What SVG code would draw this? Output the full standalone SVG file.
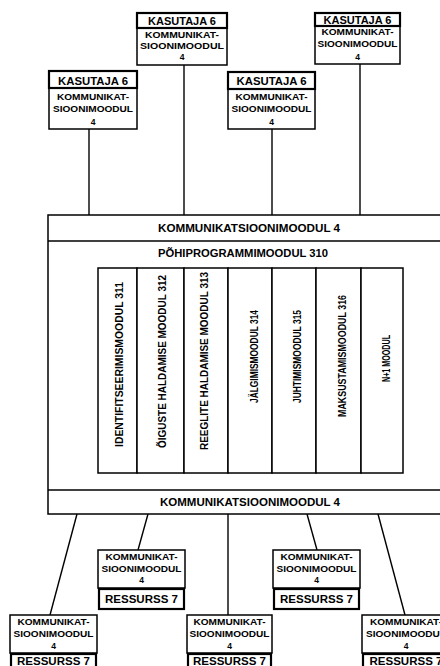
<svg xmlns="http://www.w3.org/2000/svg" width="440" height="666" viewBox="0 0 440 666">
<style>
.b{fill:#fff;stroke:#000;stroke-width:1.5}
.h{fill:#fff;stroke:#000;stroke-width:2.2}
.l{stroke:#000;stroke-width:1.4;fill:none}
text{font-family:"Liberation Sans",Arial,sans-serif;font-weight:bold;fill:#000;text-anchor:middle}
.t{font-size:10px}
.s{font-size:8.5px}
.v{font-size:10px}
</style>
<rect width="440" height="666" fill="#fff"/>
<g id="connectors">
<line class="l" x1="184" y1="65" x2="184" y2="215"/>
<line class="l" x1="360" y1="64" x2="360" y2="215"/>
<line class="l" x1="89" y1="129" x2="89" y2="215"/>
<line class="l" x1="272" y1="129" x2="272" y2="215"/>
<line class="l" x1="77" y1="514" x2="50" y2="615"/>
<line class="l" x1="148" y1="514" x2="138" y2="550"/>
<line class="l" x1="228" y1="514" x2="228" y2="615"/>
<line class="l" x1="307" y1="514" x2="317" y2="550"/>
<line class="l" x1="378" y1="514" x2="405" y2="615"/>
</g>
<g id="user-a">
<rect class="b" x="137" y="13" width="90" height="52"/>
<rect class="h" x="137" y="13" width="90" height="15"/>
<text class="t" x="182" y="24.5" textLength="68" lengthAdjust="spacingAndGlyphs">KASUTAJA 6</text>
<text class="s" x="182" y="37.5" textLength="74" lengthAdjust="spacingAndGlyphs">KOMMUNIKAT-</text>
<text class="s" x="182" y="49" textLength="84" lengthAdjust="spacingAndGlyphs">SIOONIMOODUL</text>
<text class="s" x="182" y="60">4</text>
</g>
<g id="user-b">
<rect class="b" x="315" y="13" width="85" height="51"/>
<rect class="h" x="315" y="13" width="85" height="13"/>
<text class="t" x="357.5" y="23.5" textLength="68" lengthAdjust="spacingAndGlyphs">KASUTAJA 6</text>
<text class="s" x="357.5" y="35" textLength="72" lengthAdjust="spacingAndGlyphs">KOMMUNIKAT-</text>
<text class="s" x="357.5" y="46.5" textLength="80" lengthAdjust="spacingAndGlyphs">SIOONIMOODUL</text>
<text class="s" x="357.5" y="60">4</text>
</g>
<g id="user-c">
<rect class="b" x="49" y="71" width="88" height="58"/>
<rect class="h" x="49" y="71" width="88" height="17"/>
<text class="t" x="93" y="84.5" textLength="70" lengthAdjust="spacingAndGlyphs">KASUTAJA 6</text>
<text class="s" x="93" y="99.5" textLength="72" lengthAdjust="spacingAndGlyphs">KOMMUNIKAT-</text>
<text class="s" x="93" y="112" textLength="80" lengthAdjust="spacingAndGlyphs">SIOONIMOODUL</text>
<text class="s" x="93" y="124.5">4</text>
</g>
<g id="user-d">
<rect class="b" x="228" y="72" width="87" height="57"/>
<rect class="h" x="228" y="72" width="87" height="17"/>
<text class="t" x="271.5" y="85" textLength="70" lengthAdjust="spacingAndGlyphs">KASUTAJA 6</text>
<text class="s" x="271.5" y="100" textLength="72" lengthAdjust="spacingAndGlyphs">KOMMUNIKAT-</text>
<text class="s" x="271.5" y="112" textLength="80" lengthAdjust="spacingAndGlyphs">SIOONIMOODUL</text>
<text class="s" x="271.5" y="125">4</text>
</g>
<g id="main">
<rect class="b" x="48" y="215" width="410" height="299"/>
<line class="l" x1="48" y1="241" x2="440" y2="241"/>
<line class="l" x1="48" y1="490" x2="440" y2="490"/>
<text class="t" x="249" y="231.5" textLength="182" lengthAdjust="spacingAndGlyphs">KOMMUNIKATSIOONIMOODUL 4</text>
<text class="t" x="243" y="257" textLength="170" lengthAdjust="spacingAndGlyphs">PÕHIPROGRAMMIMOODUL 310</text>
<text class="t" x="250" y="506" textLength="180" lengthAdjust="spacingAndGlyphs">KOMMUNIKATSIOONIMOODUL 4</text>
</g>
<g id="module-311">
<rect class="b" x="98" y="268" width="39" height="205"/>
<text class="v" transform="translate(123,364.5) rotate(-90)" textLength="165" lengthAdjust="spacingAndGlyphs">IDENTIFITSEERIMISMOODUL 311</text>
</g>
<g id="module-312">
<rect class="b" x="137" y="268" width="47" height="205"/>
<text class="v" transform="translate(166,361.5) rotate(-90)" textLength="173" lengthAdjust="spacingAndGlyphs">ÕIGUSTE HALDAMISE MOODUL 312</text>
</g>
<g id="module-313">
<rect class="b" x="184" y="268" width="44" height="205"/>
<text class="v" transform="translate(208,361) rotate(-90)" textLength="178" lengthAdjust="spacingAndGlyphs">REEGLITE HALDAMISE MOODUL 313</text>
</g>
<g id="module-314">
<rect class="b" x="228" y="268" width="44" height="205"/>
<text class="v" transform="translate(258,356.5) rotate(-90)" textLength="93" lengthAdjust="spacingAndGlyphs">JÄLGIMISMOODUL 314</text>
</g>
<g id="module-315">
<rect class="b" x="272" y="268" width="44" height="205"/>
<text class="v" transform="translate(301,356.5) rotate(-90)" textLength="93" lengthAdjust="spacingAndGlyphs">JUHTIMISMOODUL 315</text>
</g>
<g id="module-316">
<rect class="b" x="316" y="268" width="45" height="205"/>
<text class="v" transform="translate(345.5,356) rotate(-90)" textLength="122" lengthAdjust="spacingAndGlyphs">MAKSUSTAMISMOODUL 316</text>
</g>
<g id="module-n1">
<rect class="b" x="361" y="268" width="42" height="205"/>
<text class="v" transform="translate(390,358.5) rotate(-90)" textLength="47" lengthAdjust="spacingAndGlyphs">N+1 MOODUL</text>
</g>
<g id="res-e">
<rect class="b" x="98" y="550" width="87" height="38"/>
<text class="s" x="141.5" y="560" textLength="72" lengthAdjust="spacingAndGlyphs">KOMMUNIKAT-</text>
<text class="s" x="141.5" y="571.5" textLength="80" lengthAdjust="spacingAndGlyphs">SIOONIMOODUL</text>
<text class="s" x="141.5" y="583">4</text>
<rect class="h" x="99" y="589" width="85" height="20"/>
<text class="t" x="141.5" y="603" textLength="73" lengthAdjust="spacingAndGlyphs">RESSURSS 7</text>
</g>
<g id="res-f">
<rect class="b" x="273" y="550" width="87" height="38"/>
<text class="s" x="316.5" y="560" textLength="72" lengthAdjust="spacingAndGlyphs">KOMMUNIKAT-</text>
<text class="s" x="316.5" y="571.5" textLength="80" lengthAdjust="spacingAndGlyphs">SIOONIMOODUL</text>
<text class="s" x="316.5" y="583">4</text>
<rect class="h" x="274" y="589" width="85" height="20"/>
<text class="t" x="316.5" y="603" textLength="73" lengthAdjust="spacingAndGlyphs">RESSURSS 7</text>
</g>
<g id="res-g">
<rect class="b" x="10" y="615" width="87" height="38"/>
<text class="s" x="53.5" y="625" textLength="72" lengthAdjust="spacingAndGlyphs">KOMMUNIKAT-</text>
<text class="s" x="53.5" y="637" textLength="80" lengthAdjust="spacingAndGlyphs">SIOONIMOODUL</text>
<text class="s" x="53.5" y="649">4</text>
<rect class="h" x="11" y="654" width="85" height="20"/>
<text class="t" x="53.5" y="665" textLength="73" lengthAdjust="spacingAndGlyphs">RESSURSS 7</text>
</g>
<g id="res-h">
<rect class="b" x="187" y="615" width="85" height="38"/>
<text class="s" x="229.5" y="625" textLength="72" lengthAdjust="spacingAndGlyphs">KOMMUNIKAT-</text>
<text class="s" x="229.5" y="637" textLength="80" lengthAdjust="spacingAndGlyphs">SIOONIMOODUL</text>
<text class="s" x="229.5" y="649">4</text>
<rect class="h" x="188" y="654" width="83" height="20"/>
<text class="t" x="229.5" y="665" textLength="73" lengthAdjust="spacingAndGlyphs">RESSURSS 7</text>
</g>
<g id="res-i">
<rect class="b" x="362" y="615" width="88" height="38"/>
<text class="s" x="406" y="625" textLength="72" lengthAdjust="spacingAndGlyphs">KOMMUNIKAT-</text>
<text class="s" x="406" y="637" textLength="80" lengthAdjust="spacingAndGlyphs">SIOONIMOODUL</text>
<text class="s" x="406" y="649">4</text>
<rect class="h" x="363" y="654" width="86" height="20"/>
<text class="t" x="406" y="665" textLength="73" lengthAdjust="spacingAndGlyphs">RESSURSS 7</text>
</g>
</svg>
